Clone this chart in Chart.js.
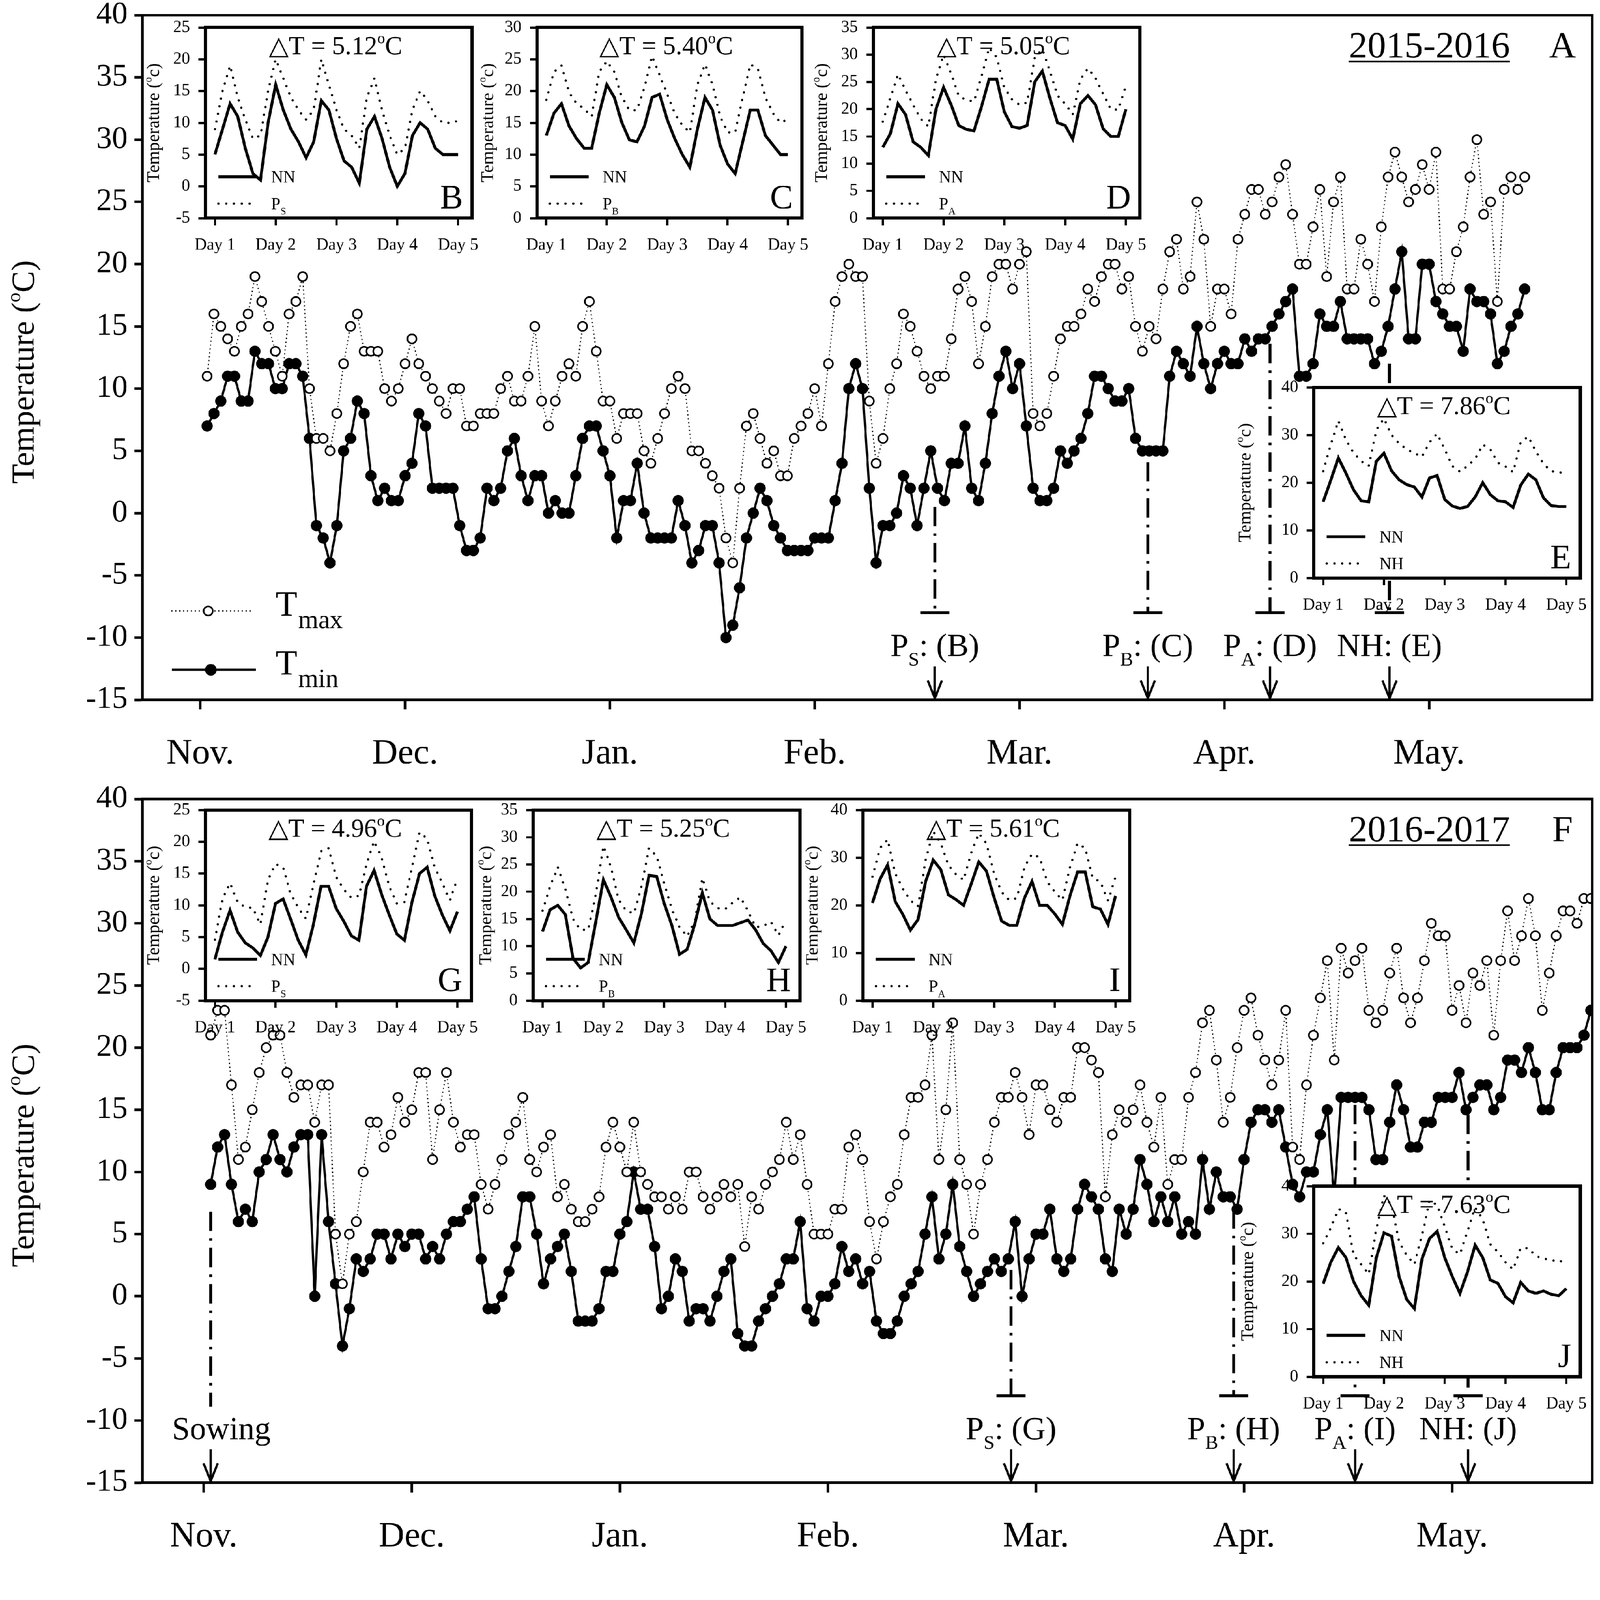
<!DOCTYPE html>
<html>
<head>
<meta charset="utf-8">
<script src="https://cdn.jsdelivr.net/npm/chart.js@4.4.1/dist/chart.umd.min.js"></script>
<style>
  html, body { margin: 0; padding: 0; background: #fff; overflow: hidden; }
  #wrap { position: absolute; left: 0; top: 0; width: 4952px; height: 4815px; overflow: hidden; background: #fff; transform-origin: 0 0; }
  canvas { position: absolute; }
</style>
</head>
<body>
<div id="wrap"></div>
<script>
// ---- daily data, day 1 = first day after sowing ----
const monthTicks = [0, 30, 60, 90, 120, 150, 180];
const monthLabels = ['Nov.', 'Dec.', 'Jan.', 'Feb.', 'Mar.', 'Apr.', 'May.'];

// 2015-2016
const tmax1516 = [
  11,16,15,14,13,15,16,19,17,15, 13,11,16,17,19,10,6,6,5,8,
  12,15,16,13,13,13,10,9,10,12, 14,12,11,10,9,8,10,10,7,7,
  8,8,8,10,11,9,9,11,15,9, 7,9,11,12,11,15,17,13,9,9,
  6,8,8,8,5,4,
  6,8,10,11,10,5,5,4,3,2, -2,-4,2,7,8,6,4,5,3,3,
  6,7,8,10,7,12,17,19,20,19, 19,9,4,6,10,12,16,15,13,11,
  10,11,11,14,18,19,17,12,15,19, 20,20,18,20,21,8,7,8,11,14,
  15,15,16,18,17,19,20,20,18,19, 15,13,15,14,18,
  21,22,18,19,25,22,15,18,18,16, 22,24,26,26,24,25,27,28,24,20,
  20,23,26,19,25,27,18,18,22,20, 17,23,27,29,27,25,26,28,26,29,
  18,18,21,23,27,30,24,25,17,26, 27,26,27
];
const tmin1516 = [
  7,8,9,11,11,9,9,13,12,12, 10,10,12,12,11,6,-1,-2,-4,-1,
  5,6,9,8,3,1,2,1,1,3, 4,8,7,2,2,2,2,-1,-3,-3,
  -2,2,1,2,5,6,3,1,3,3, 0,1,0,0,3,6,7,7,5,3,
  -2,1,1,4,0,-2,
  -2,-2,-2,1,-1,-4,-3,-1,-1,-4, -10,-9,-6,-2,0,2,1,-1,-2,-3,
  -3,-3,-3,-2,-2,-2,1,4,10,12, 10,2,-4,-1,-1,0,3,2,-1,2,
  5,2,1,4,4,7,2,1,4,8, 11,13,10,12,7,2,1,1,2,5,
  4,5,6,8,11,11,10,9,9,10, 6,5,5,5,5,
  11,13,12,11,15,12,10,12,13,12, 12,14,13,14,14,15,16,17,18,11,
  11,12,16,15,15,17,14,14,14,14, 12,13,15,18,21,14,14,20,20,17,
  16,15,15,13,18,17,17,16,12,13, 15,16,18
];

// 2016-2017
const tmax1617 = [
  21,23,23,17,11,12,15,18,20,21, 21,18,16,17,17,14,17,17,5,1,
  5,6,10,14,14,12,13,16,14,15, 18,18,11,15,18,14,12,13,13,9,
  7,9,11,13,14,16,11,10,12,13, 8,9,7,6,6,7,8,12,14,12,
  10,14,10,9,8,
  8,7,8,7,10,10,8,7,8,9, 8,9,4,8,7,9,10,11,14,11,
  13,9,5,5,5,7,7,12,13,11, 6,3,6,8,9,13,16,16,17,21,
  11,15,22,11,9,5,9,11,14,16, 16,18,16,13,17,17,15,14,16,16,
  20,20,19,18,8,13,15,14,15,17, 14,12,16,
  9,11,11,16,18,22,23,19,14,16, 20,23,24,21,19,17,19,23,12,11,
  17,21,24,27,19,28,26,27,28,23, 22,23,26,28,24,22,24,27,30,29,
  29,23,25,22,26,25,27,21,27,31, 27,29,32,29,23,26,29,31,31,30,
  32,32
];
const tmin1617 = [
  9,12,13,9,6,7,6,10,11,13, 11,10,12,13,13,0,13,6,1,-4,
  -1,3,2,3,5,5,3,5,4,5, 5,3,4,3,5,6,6,7,8,3,
  -1,-1,0,2,4,8,8,5,1,3, 4,5,2,-2,-2,-2,-1,2,2,5,
  6,10,7,7,4,
  -1,0,3,2,-2,-1,-1,-2,0,2, 3,-3,-4,-4,-2,-1,0,1,3,3,
  6,-1,-2,0,0,1,4,2,3,1, 2,-2,-3,-3,-2,0,1,2,5,8,
  3,5,9,4,2,0,1,2,3,2, 3,6,0,3,5,5,7,3,2,3,
  7,9,8,7,3,2,7,5,7,11, 9,6,8,
  6,8,5,6,5,11,7,10,8,8, 7,11,14,15,15,14,15,12,9,8,
  10,10,13,15,8,16,16,16,16,15, 11,11,14,17,15,12,12,14,14,16,
  16,16,18,15,16,17,17,15,16,19, 19,18,20,18,15,15,18,20,20,20,
  21,23
];

// stage markers (day of season, top of the dash-dot line)
const topMarkDays = [107.6, 138.8, 156.7, 174.2];
const topMarkTops = [0.5, 4.1, 13.6, 12.0];
const topMarkEnds = [-8, -8, -8, -8];
const topMarkBars = [true, true, true, true];
const topMarkLabels = [
  [['P', 0], ['S', 1], [': (B)', 0]],
  [['P', 0], ['B', 1], [': (C)', 0]],
  [['P', 0], ['A', 1], [': (D)', 0]],
  [['NH: (E)', 0]]
];
const topLabelShift = [0, 0, 0, 0];
const botMarkDays = [1, 116.4, 148.5, 166.0, 182.3];
const botMarkTops = [6.8, 2.1, 7.0, 15.4, 14.6];
const botMarkEnds = [-8.9, -8, -8, -8, -8];
const botMarkBars = [false, true, true, true, true];
const botMarkLabels = [
  [['Sowing', 0]],
  [['P', 0], ['S', 1], [': (G)', 0]],
  [['P', 0], ['B', 1], [': (H)', 0]],
  [['P', 0], ['A', 1], [': (I)', 0]],
  [['NH: (J)', 0]]
];
const botLabelShift = [33, 0, 0, 0, 0];
const labelLevel = -10.6;
const arrowFrom = -12.3;

// ---- 5-day hourly insets, sampled every 3 h (x = day offset) ----
const dayTicks = [0, 1, 2, 3, 4];
const dayLabels = ['Day 1', 'Day 2', 'Day 3', 'Day 4', 'Day 5'];

const bNN = [5,9,13,11,6,2,1,10, 16,12,9,7,4.5,7,13.5,12, 7.5,4,3,0.5,9,11,7.5,3, 0,2,8,10,9,6,5,5, 5];
const bPS = [9,15,19,14,10.5,7.5,8,15, 20,17,14,12,10.5,12,20,16, 12,9,8,6,14,17,12,8, 5,6,12,15,13.5,11,10,10, 10.3];
const cNN = [13,16.5,18,14.5,12.5,11,11,16.5, 21,19,15,12.3,12,14.5,19,19.5, 15.5,12.5,10,8,14,19,17,11.5, 8.5,7,12,17,17,13,11.5,10, 10];
const cPB = [18.6,23,24,19.8,18,17.2,16,23, 24.7,23,19,17,17,20.6,25.5,22.5, 19.5,16.5,14.6,13.5,21,24.2,21,16, 13.5,13.5,19,24.2,23.5,19,16.5,15, 15.6];
const dNN = [13,15.5,21,19,14,13,11.5,20, 24,20.8,17,16.3,16,20.5,25.5,25.5, 19.5,16.8,16.5,17,25,27,22,17.5, 17,14.5,21,22.5,20.8,16.4,15,15, 20];
const dPA = [17.7,22,26.4,23.5,20.8,18.2,16.8,25.5, 30,26.5,22.4,21.7,21.4,26,31.3,29.5, 24,21.8,20.8,21.2,29.5,31,27,22.5, 21,19,25.5,27.5,25.7,22.8,20,19.9, 24.3];
const eNN = [16,20.5,25.2,22,18.5,16.2,16,24.5, 26.2,22.5,20.6,19.6,19.1,17,21,21.5, 16.5,15.1,14.6,15,17,20,17.5,16.2, 16,14.8,19.5,21.8,20.6,16.8,15.2,15, 15];
const eNH = [22.4,28,33,29,26.3,24.5,23.5,31, 33.5,30,28.2,27,26.2,25.4,28.5,30.3, 27,23.5,22.3,23.5,25,28,27,24.2, 23.4,22.2,28.5,29.7,26.5,24,22.4,22.2, 22];
const gNN = [1.5,5.8,9.2,5.8,4.1,3.3,2.1,5, 10.3,11,7.8,4.5,2.2,7,13,13, 9.5,7.5,5.2,4.5,13,15.5,11.7,8.5, 5.5,4.5,10.5,15,16,11.5,8.5,6, 9];
const gPS = [4.6,11,13.5,10.5,9.7,9.6,7,14, 16.5,16,11.8,9.6,7.9,13.2,18.5,19, 14.5,12.5,11.2,11.5,16.5,20.1,17.5,13, 10.3,10.5,16,21.5,20.5,16,13.5,10.8, 14.2];
const hNN = [12.7,16.7,17.5,15.8,7.8,6,7,14.5, 22.2,19,15.3,13,10.6,16,23,22.8, 17.8,13.8,8.5,9.4,14,19.8,15,13.8, 13.8,13.8,14.3,14.8,13,10.5,9.2,7, 10];
const hPB = [16.5,21,24.5,20.5,15,13,13,19.5, 28.4,24.5,18.5,16.5,16,21,28,26.5, 21.5,16.8,13.5,11.8,14.5,22.5,18.2,17, 16.8,18,19,16.5,13.5,13.7,14.5,12, 14.8];
const iNN = [20.5,25.5,28.5,20.8,18.1,14.8,17,25, 29.5,27.5,22.2,21.2,20,24.5,29.1,27.2, 21.7,16.7,15.8,15.8,21.5,25,20,20, 18.2,16,22,27,27,19.7,19.2,16, 22];
const iPA = [26,32,33.8,26.7,23.5,21,19.8,29.5, 35.5,33,28.4,26.5,25.3,31,35.1,33, 26.7,22.8,21.1,21.5,28,30.8,30,25, 22.8,21.1,28,33,32,25.7,25,21, 26];
const jNN = [19.5,24,27.1,25,20,17,15,25, 30.2,29.5,21,16.2,14.3,24.7,29,30.5, 25,21,17.5,22,27.6,25,20.3,19.6, 16.8,15.5,19.8,18,17.5,18,17.3,17, 18.5];
const jNH = [28,31.2,35.2,34.5,25.5,23.6,21.5,31, 38,36,28.3,25.5,23.6,29.5,37,36, 31.5,26.8,25.7,30.5,35.5,33,27.8,26.2, 24,22.5,27,27,25.3,24.8,24.5,24.1, 24.6];

const insetNN = [bNN, cNN, dNN, eNN, gNN, hNN, iNN, jNN];
const insetOther = [bPS, cPB, dPA, eNH, gPS, hPB, iPA, jNH];
const insetOtherName = [
  [['P', 0], ['S', 1]], [['P', 0], ['B', 1]], [['P', 0], ['A', 1]], [['NH', 0]],
  [['P', 0], ['S', 1]], [['P', 0], ['B', 1]], [['P', 0], ['A', 1]], [['NH', 0]]
];
const insetDT = ['5.12', '5.40', '5.05', '7.86', '4.96', '5.25', '5.61', '7.63'];
const insetLetter = ['B', 'C', 'D', 'E', 'G', 'H', 'I', 'J'];
const insetY = [[-5, 25, 5], [0, 30, 5], [0, 35, 5], [0, 40, 10], [-5, 25, 5], [0, 35, 5], [0, 40, 10], [0, 40, 10]];

// inset boxes on the page (px)
const insetLeft = [636, 1662, 2703, 4066, 636, 1650, 2671, 4066];
const insetTop = [85, 85, 85, 1199, 2507, 2507, 2507, 3671];
const insetWidth = [825, 820, 825, 825, 823, 826, 825, 825];
const insetTitleOff = [163, 155, 163, 215, 163, 149, 159, 207];
const INSET_H = 590;

// ---- helpers ----
const FONT = "'Liberation Serif', 'Times New Roman', serif";
Chart.defaults.font.family = FONT;
Chart.defaults.color = '#000';
const font = size => size + 'px ' + FONT;

// parts: [text, 0 normal | 1 subscript | 2 superscript]
function rich(ctx, parts, x, y, size, align) {
  const sc = [1, 0.6, 0.6], sh = [0, 0.3, -0.42];
  let w = 0;
  for (const p of parts) { ctx.font = font(size * sc[p[1]]); w += ctx.measureText(p[0]).width; }
  let cx = align === 'center' ? x - w / 2 : (align === 'right' ? x - w : x);
  ctx.textAlign = 'left';
  ctx.textBaseline = 'alphabetic';
  for (const p of parts) {
    ctx.font = font(size * sc[p[1]]);
    ctx.fillText(p[0], cx, y + sh[p[1]] * size);
    cx += ctx.measureText(p[0]).width;
  }
  return w;
}

function seg(ctx, x0, y0, x1, y1) {
  ctx.beginPath(); ctx.moveTo(x0, y0); ctx.lineTo(x1, y1); ctx.stroke();
}

function noPad(s) { s.paddingLeft = 0; s.paddingRight = 0; s.paddingTop = 0; s.paddingBottom = 0; }

// fit the 4952 x 4815 page into whatever viewport we get
const wrap = document.getElementById('wrap');
const fit = Math.min(window.innerWidth / 4952, window.innerHeight / 4815);
wrap.style.transform = 'scale(' + fit + ')';

function addCanvas(l, t, w, h) {
  const c = document.createElement('canvas');
  c.width = w; c.height = h;
  c.style.left = l + 'px'; c.style.top = t + 'px';
  c.style.width = w + 'px'; c.style.height = h + 'px';
  wrap.appendChild(c);
  return c;
}

// ---- main panels ----
function panelDecor(cfg) {
  return {
    id: 'panelDecor',
    afterDraw(chart) {
      const ctx = chart.ctx, a = chart.chartArea, xs = chart.scales.x, ys = chart.scales.y;
      ctx.save();
      ctx.strokeStyle = '#000';
      ctx.fillStyle = '#000';
      ctx.lineWidth = 8;
      ctx.strokeRect(a.left, a.top, a.right - a.left, a.bottom - a.top);

      ctx.save();
      ctx.translate(70, (a.top + a.bottom) / 2 + 45);
      ctx.rotate(-Math.PI / 2);
      rich(ctx, [['Temperature (', 0], ['o', 2], ['C)', 0]], 0, 34, 100, 'center');
      ctx.restore();

      cfg.days.forEach((d, i) => {
        const x = xs.getPixelForValue(d);
        const y0 = ys.getPixelForValue(cfg.tops[i]);
        const y1 = ys.getPixelForValue(cfg.ends[i]);
        ctx.lineWidth = 9;
        ctx.setLineDash([60, 22, 8, 22]);
        seg(ctx, x, y0, x, y1);
        ctx.setLineDash([]);
        if (cfg.bars[i]) seg(ctx, x - 45, y1, x + 45, y1);
        rich(ctx, cfg.labels[i], x + cfg.shift[i], ys.getPixelForValue(labelLevel) + 34, 100, 'center');
        const ya = ys.getPixelForValue(arrowFrom), yb = a.bottom - 5;
        ctx.lineWidth = 7;
        seg(ctx, x, ya, x, yb);
        ctx.beginPath();
        ctx.moveTo(x - 22, yb - 55); ctx.lineTo(x, yb); ctx.lineTo(x + 22, yb - 55);
        ctx.stroke();
      });

      // season label and panel letter
      const yc = a.top + 131;
      const w = rich(ctx, [[cfg.season, 0]], a.right - 504, yc, 115, 'center');
      ctx.lineWidth = 5;
      seg(ctx, a.right - 504 - w / 2, yc + 12, a.right - 504 + w / 2, yc + 12);
      rich(ctx, [[cfg.letter, 0]], a.right - 92, yc, 115, 'center');

      if (cfg.legend) {
        const lx0 = a.left + 91, lx1 = a.left + 336;
        const r1 = a.bottom - 275, r2 = a.bottom - 93;
        ctx.lineWidth = 4; ctx.lineCap = 'round'; ctx.setLineDash([0.1, 12]);
        seg(ctx, lx0, r1, lx1, r1);
        ctx.setLineDash([]); ctx.lineCap = 'butt';
        ctx.beginPath(); ctx.arc((lx0 + lx1) / 2 - 10, r1, 14, 0, Math.PI * 2);
        ctx.fillStyle = '#fff'; ctx.fill(); ctx.lineWidth = 5; ctx.stroke();
        ctx.fillStyle = '#000';
        ctx.lineWidth = 7;
        seg(ctx, lx0, r2, lx1 + 15, r2);
        ctx.beginPath(); ctx.arc((lx0 + lx1) / 2 - 2, r2, 18, 0, Math.PI * 2); ctx.fill();
        ctx.textAlign = 'left'; ctx.textBaseline = 'alphabetic';
        ctx.font = font(110); ctx.fillText('T', a.left + 412, r1 + 15);
        ctx.font = font(80); ctx.fillText('max', a.left + 482, r1 + 53);
        ctx.font = font(110); ctx.fillText('T', a.left + 412, r2 + 15);
        ctx.font = font(80); ctx.fillText('min', a.left + 482, r2 + 53);
      }
      ctx.restore();
    }
  };
}

function mainChart(canvas, tmax, tmin, xMin, xMax, padTop, xHeight, cfg) {
  const axisGrid = { drawOnChartArea: false, drawTicks: true, tickWidth: 8, color: '#000' };
  return new Chart(canvas, {
    type: 'line',
    data: {
      datasets: [
        {
          label: 'Tmax', data: tmax.map((v, i) => ({ x: i + 1, y: v })),
          borderColor: '#000', borderWidth: 4, borderDash: [0.1, 12], borderCapStyle: 'round', tension: 0,
          pointRadius: 14, pointBackgroundColor: '#fff', pointBorderColor: '#000', pointBorderWidth: 5,
          order: 1
        },
        {
          label: 'Tmin', data: tmin.map((v, i) => ({ x: i + 1, y: v })),
          borderColor: '#000', borderWidth: 7, tension: 0,
          pointRadius: 17, pointBackgroundColor: '#000', pointBorderColor: '#000', pointBorderWidth: 1,
          order: 2
        }
      ]
    },
    options: {
      responsive: false, animation: false, devicePixelRatio: 1,
      layout: { padding: { left: 0, top: padTop, right: 24, bottom: 0 } },
      plugins: { legend: { display: false }, tooltip: { enabled: false } },
      scales: {
        x: {
          type: 'linear', min: xMin, max: xMax,
          afterBuildTicks: s => { s.ticks = monthTicks.map(v => ({ value: v })); },
          afterFit: s => { s.height = xHeight; noPad(s); },
          ticks: {
            callback: v => monthLabels[monthTicks.indexOf(v)],
            font: { size: 110 }, color: '#000', padding: 72, maxRotation: 0, autoSkip: false
          },
          grid: Object.assign({ tickLength: 30 }, axisGrid),
          border: { display: true, width: 8, color: '#000' }
        },
        y: {
          min: -15, max: 40,
          afterFit: s => { s.width = 441; noPad(s); },
          ticks: { stepSize: 5, font: { size: 97 }, color: '#000', padding: 21, autoSkip: false },
          grid: Object.assign({ tickLength: 25 }, axisGrid),
          border: { display: true, width: 8, color: '#000' }
        }
      }
    },
    plugins: [panelDecor(cfg)]
  });
}

mainChart(addCanvas(0, 0, 4952, 2420), tmax1516, tmin1516, -8.47, 203.9, 47, 254, {
  days: topMarkDays, tops: topMarkTops, ends: topMarkEnds, bars: topMarkBars, labels: topMarkLabels,
  shift: topLabelShift, season: '2015-2016', letter: 'A', legend: true
});
mainChart(addCanvas(0, 2420, 4952, 2395), tmax1617, tmin1617, -8.83, 200.2, 53, 226, {
  days: botMarkDays, tops: botMarkTops, ends: botMarkEnds, bars: botMarkBars, labels: botMarkLabels,
  shift: botLabelShift, season: '2016-2017', letter: 'F', legend: false
});

// ---- insets ----
function insetDecor(i) {
  return {
    id: 'insetDecor',
    beforeDraw(chart) {
      const a = chart.chartArea, ctx = chart.ctx;
      ctx.save(); ctx.fillStyle = '#fff';
      ctx.fillRect(a.left, a.top, a.right - a.left, a.bottom - a.top);
      ctx.restore();
    },
    afterDraw(chart) {
      const ctx = chart.ctx, a = chart.chartArea;
      ctx.save();
      ctx.fillStyle = '#000'; ctx.strokeStyle = '#000';
      ctx.lineWidth = 10;
      ctx.strokeRect(a.left, a.top, a.right - a.left, a.bottom - a.top);
      rich(ctx, [['\u25B3T = ' + insetDT[i], 0], ['o', 2], ['C', 0]], (a.left + a.right) / 2 - 10, a.top + 83, 80, 'center');
      rich(ctx, [[insetLetter[i], 0]], a.right - 28, a.bottom - 30, 106, 'right');
      const ly1 = a.top + 462, ly2 = a.top + 545;
      ctx.lineWidth = 9;
      seg(ctx, a.left + 40, ly1, a.left + 160, ly1);
      ctx.lineWidth = 7; ctx.lineCap = 'round'; ctx.setLineDash([0.1, 24]);
      seg(ctx, a.left + 40, ly2, a.left + 150, ly2);
      ctx.setLineDash([]); ctx.lineCap = 'butt';
      rich(ctx, [['NN', 0]], a.left + 203, ly1 + 18, 52, 'left');
      rich(ctx, insetOtherName[i], a.left + 203, ly2 + 18, 52, 'left');
      ctx.save();
      ctx.translate(a.left - insetTitleOff[i], (a.top + a.bottom) / 2);
      ctx.rotate(-Math.PI / 2);
      rich(ctx, [['Temperature (', 0], ['o', 2], ['c)', 0]], 0, 19, 55, 'center');
      ctx.restore();
      ctx.restore();
    }
  };
}

function insetChart(i) {
  const L = insetLeft[i], T = insetTop[i], W = insetWidth[i];
  const c = addCanvas(L - 240, T - 30, 240 + W + 40, 30 + INSET_H + 140);
  const yr = insetY[i];
  const g = { drawOnChartArea: false, drawTicks: true, tickLength: 22, tickWidth: 7, color: '#000' };
  return new Chart(c, {
    type: 'line',
    data: {
      datasets: [
        {
          data: insetNN[i].map((v, k) => ({ x: k / 8, y: v })),
          borderColor: '#000', borderWidth: 9, pointRadius: 0, tension: 0, order: 1
        },
        {
          data: insetOther[i].map((v, k) => ({ x: k / 8, y: v })),
          borderColor: '#000', borderWidth: 7, borderDash: [0.1, 24], borderCapStyle: 'round',
          pointRadius: 0, tension: 0, order: 2
        }
      ]
    },
    options: {
      responsive: false, animation: false, devicePixelRatio: 1,
      layout: { padding: { left: 0, top: 30, right: 40, bottom: 0 } },
      plugins: { legend: { display: false }, tooltip: { enabled: false } },
      scales: {
        x: {
          type: 'linear', min: -0.155, max: 4.23,
          afterBuildTicks: s => { s.ticks = dayTicks.map(v => ({ value: v })); },
          afterFit: s => { s.height = 140; noPad(s); },
          ticks: {
            callback: v => dayLabels[dayTicks.indexOf(v)],
            font: { size: 52 }, color: '#000', padding: 31, maxRotation: 0, autoSkip: false
          },
          grid: g,
          border: { display: true, width: 10, color: '#000' }
        },
        y: {
          min: yr[0], max: yr[1],
          afterFit: s => { s.width = 240; noPad(s); },
          ticks: { stepSize: yr[2], font: { size: 52 }, color: '#000', padding: 26, autoSkip: false },
          grid: g,
          border: { display: true, width: 10, color: '#000' }
        }
      }
    },
    plugins: [insetDecor(i)]
  });
}

insetNN.forEach((_, i) => insetChart(i));
</script>
</body>
</html>
